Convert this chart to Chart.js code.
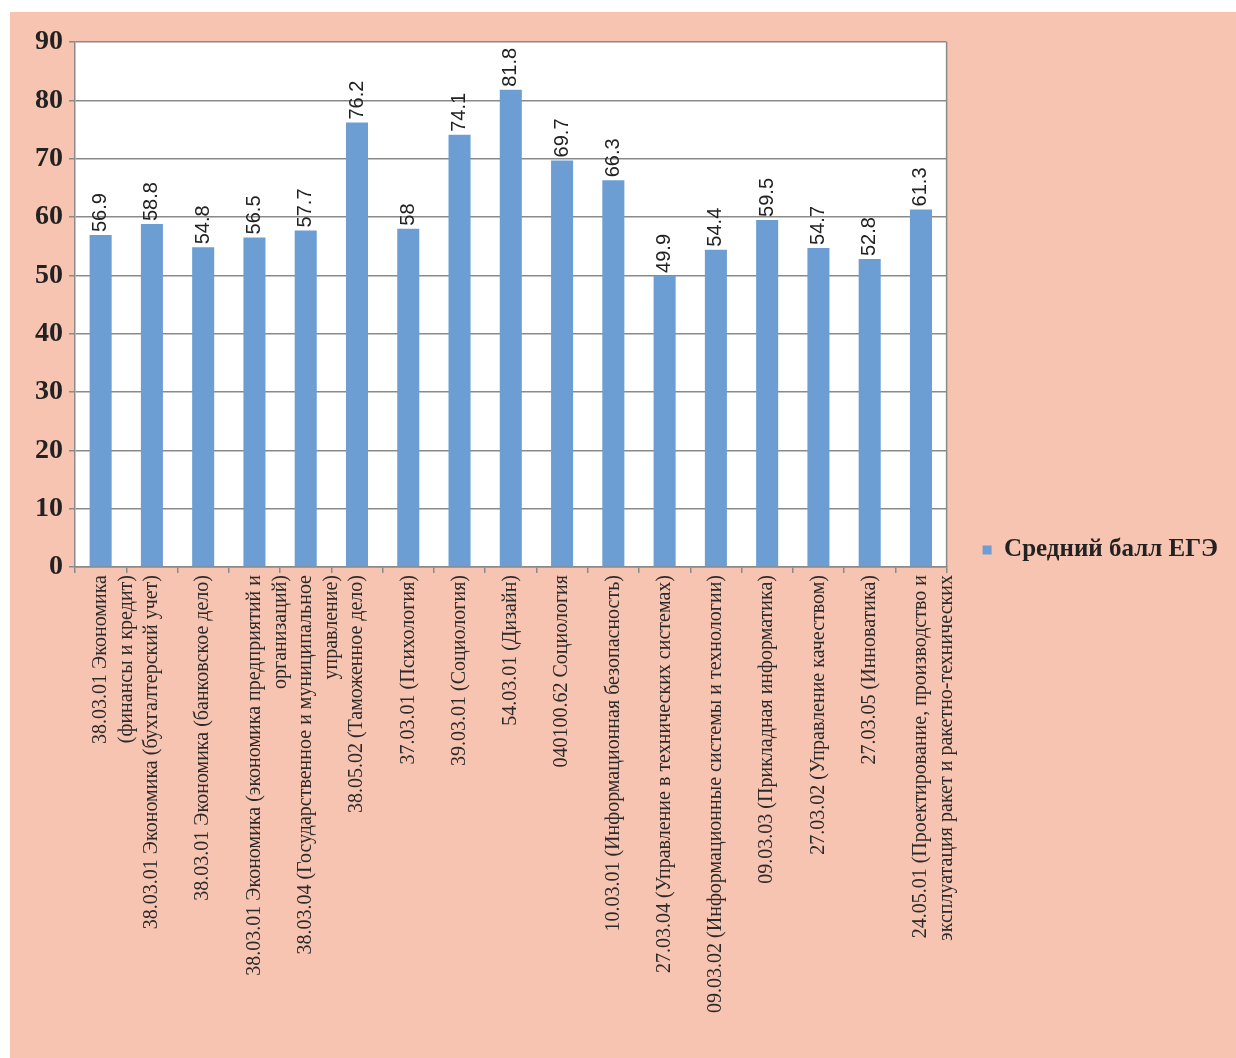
<!DOCTYPE html>
<html lang="ru">
<head>
    <meta charset="UTF-8">
    <title>Средний балл ЕГЭ</title>
    <script src="https://cdn.jsdelivr.net/npm/chart.js"></script>
    <style>
        body { margin: 0; background: #ffffff; }
        .chart-container {
            position: absolute;
            left: 10px;
            top: 12px;
            width: 1226px;
            height: 1046px;
            background: #f8c4b2;
        }
    </style>
</head>
<body>
    <div class="chart-container">
        <canvas id="egeChart"></canvas>
    </div>
    <script>
        // categories (two-line ones are given as arrays)
        const labels = [
            ["38.03.01 Экономика", "(финансы и кредит)"],
            "38.03.01 Экономика (бухгалтерский учет)",
            "38.03.01 Экономика (банковское дело)",
            ["38.03.01 Экономика (экономика предприятий и", "организаций)"],
            ["38.03.04 (Государственное и муниципальное", "управление)"],
            "38.05.02 (Таможенное дело)",
            "37.03.01 (Психология)",
            "39.03.01 (Социология)",
            "54.03.01 (Дизайн)",
            "040100.62 Социология",
            "10.03.01 (Информационная безопасность)",
            "27.03.04 (Управление в технических системах)",
            "09.03.02 (Информационные системы и технологии)",
            "09.03.03 (Прикладная информатика)",
            "27.03.02 (Управление качеством)",
            "27.03.05 (Инноватика)",
            ["24.05.01 (Проектирование, производство и", "эксплуатация ракет и ракетно-технических"]
        ];

        const avgScore = [56.9, 58.8, 54.8, 56.5, 57.7, 76.2, 58, 74.1, 81.8, 69.7, 66.3, 49.9, 54.4, 59.5, 54.7, 52.8, 61.3];

        const seriesName = "Средний балл ЕГЭ";

        // white plot area with a thin frame
        const plotArea = {
            id: 'plotArea',
            beforeDraw(chart) {
                const a = chart.chartArea;
                const ctx = chart.ctx;
                ctx.save();
                ctx.fillStyle = '#ffffff';
                ctx.fillRect(a.left, a.top, a.right - a.left, a.bottom - a.top);
                ctx.restore();
            },
            afterDraw(chart) {
                const a = chart.chartArea;
                const ctx = chart.ctx;
                ctx.save();
                ctx.strokeStyle = '#8a8a8a';
                ctx.lineWidth = 1.5;
                ctx.beginPath();
                ctx.moveTo(a.right, a.top);
                ctx.lineTo(a.right, a.bottom);
                ctx.stroke();
                ctx.restore();
            }
        };

        // value labels above bars, turned on their side
        const valueLabels = {
            id: 'valueLabels',
            afterDatasetsDraw(chart) {
                const ctx = chart.ctx;
                const meta = chart.getDatasetMeta(0);
                ctx.save();
                ctx.fillStyle = '#222222';
                ctx.font = '20px "Liberation Sans", Arial, sans-serif';
                ctx.textAlign = 'left';
                ctx.textBaseline = 'middle';
                meta.data.forEach((bar, i) => {
                    ctx.save();
                    ctx.translate(bar.x, bar.y - 3);
                    ctx.rotate(-Math.PI / 2);
                    ctx.fillText(String(avgScore[i]), 0, 0);
                    ctx.restore();
                });
                ctx.restore();
            }
        };

        // push the legend a bit away from the plot
        const legendShift = {
            id: 'legendShift',
            afterLayout(chart) {
                if (chart.legend) {
                    chart.legend.left += 26;
                    chart.legend.right += 26;
                }
            }
        };

        const ctx = document.getElementById('egeChart').getContext('2d');
        const egeChart = new Chart(ctx, {
            type: 'bar',
            data: {
                labels: labels,
                datasets: [{
                    label: seriesName,
                    data: avgScore,
                    backgroundColor: '#6c9ed4',
                    categoryPercentage: 1.0,
                    barPercentage: 0.43
                }]
            },
            options: {
                responsive: true,
                maintainAspectRatio: false,
                animation: false,
                layout: {
                    padding: { top: 30, right: 34, bottom: 0, left: 0 }
                },
                plugins: {
                    tooltip: { enabled: false },
                    legend: {
                        position: 'right',
                        labels: {
                            boxWidth: 9,
                            boxHeight: 9,
                            padding: 10,
                            color: '#222222',
                            font: { family: '"Liberation Serif", "Times New Roman", serif', size: 25, weight: 'bold' }
                        }
                    }
                },
                scales: {
                    x: {
                        afterFit(scale) { scale.height = 491; },
                        grid: {
                            display: true,
                            drawOnChartArea: false,
                            tickLength: 6,
                            color: '#8a8a8a',
                            lineWidth: 1.5
                        },
                        border: { display: true, color: '#8a8a8a', width: 1.5 },
                        ticks: {
                            autoSkip: false,
                            minRotation: 90,
                            maxRotation: 90,
                            padding: 2,
                            color: '#2a2a2a',
                            font: { family: '"Liberation Serif", "Times New Roman", serif', size: 20, lineHeight: 1.3 }
                        }
                    },
                    y: {
                        min: 0,
                        max: 90,
                        afterFit(scale) { scale.width = 65; },
                        grid: {
                            color: '#8a8a8a',
                            lineWidth: 1.5,
                            tickLength: 6
                        },
                        border: { display: true, color: '#8a8a8a', width: 1.5 },
                        ticks: {
                            stepSize: 10,
                            padding: 6,
                            color: '#222222',
                            font: { family: '"Liberation Serif", "Times New Roman", serif', size: 28, weight: 'bold' }
                        }
                    }
                }
            },
            plugins: [plotArea, valueLabels, legendShift]
        });
    </script>
</body>
</html>
